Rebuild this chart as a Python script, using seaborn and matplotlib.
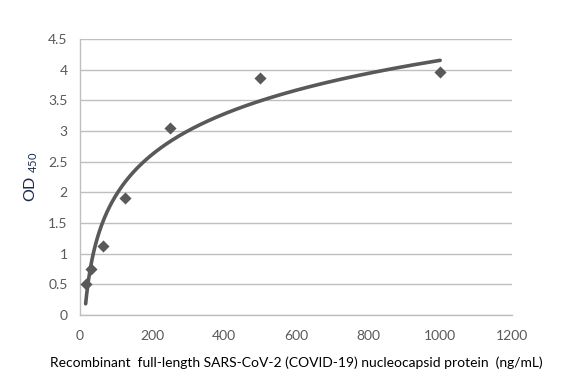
"""
Standard curve: OD450 vs recombinant SARS-CoV-2 nucleocapsid protein, with log trendline.
"""
import numpy as np
import pandas as pd
import matplotlib
matplotlib.use("Agg")
import matplotlib.pyplot as plt
import seaborn as sns

# Data
concentration = [15.625, 31.25, 62.5, 125, 250, 500, 1000]
od450 = [0.51, 0.75, 1.12, 1.91, 3.05, 3.87, 3.96]
x_ticks = [0, 200, 400, 600, 800, 1000, 1200]
y_ticks = [0, 0.5, 1, 1.5, 2, 2.5, 3, 3.5, 4, 4.5]

sns.set_theme(style="whitegrid")
plt.rcParams['font.family'] = ['Lato', 'DejaVu Sans']

grey = '#595959'
df = pd.DataFrame({'conc': concentration, 'od': od450})

# Logarithmic trendline (y = a ln x + b), like Excel's
a, b = np.polyfit(np.log(df['conc']), df['od'], 1)
fit_x = np.linspace(min(concentration), max(concentration), 400)
fit = pd.DataFrame({'conc': fit_x, 'od': a * np.log(fit_x) + b})

fig = plt.figure(figsize=(5.82, 3.82), dpi=100)
ax = fig.add_axes([0.1375, 0.1754, 0.880 - 0.1375, 0.898 - 0.1754])

sns.scatterplot(data=df, x='conc', y='od', ax=ax, marker='D', s=38,
                color=grey, edgecolor=grey, linewidth=0, zorder=3)
sns.lineplot(data=fit, x='conc', y='od', ax=ax, color=grey, linewidth=2.6, zorder=2)

ax.set_xlim(0, 1200)
ax.set_ylim(0, 4.5)
ax.set_xticks(x_ticks)
ax.set_yticks(y_ticks)
ax.set_xticklabels([str(t) for t in x_ticks])
ax.set_yticklabels([f"{t:g}" for t in y_ticks])

ax.grid(axis='x', visible=False)
ax.grid(axis='y', color='#bfbfbf', linewidth=1)
ax.set_facecolor('white')
for side in ['top', 'right']:
    ax.spines[side].set_visible(False)
for side in ['left', 'bottom']:
    ax.spines[side].set_color('#bfbfbf')
    ax.spines[side].set_linewidth(1)

ax.tick_params(axis='both', length=4, width=1, color='#bfbfbf', direction='out',
               labelsize=10, labelcolor=grey, pad=5)
ax.tick_params(axis='x', pad=7)

ax.set_xlabel("Recombinant  full-length SARS-CoV-2 (COVID-19) nucleocapsid protein  (ng/mL)",
              fontsize=10, color='black', labelpad=10)
ax.set_ylabel(r"OD $_{\mathregular{450}}$", fontsize=11.5, color='#1a2a4a', labelpad=6)

fig.savefig("out.png", dpi=100, facecolor='white')
plt.close(fig)
